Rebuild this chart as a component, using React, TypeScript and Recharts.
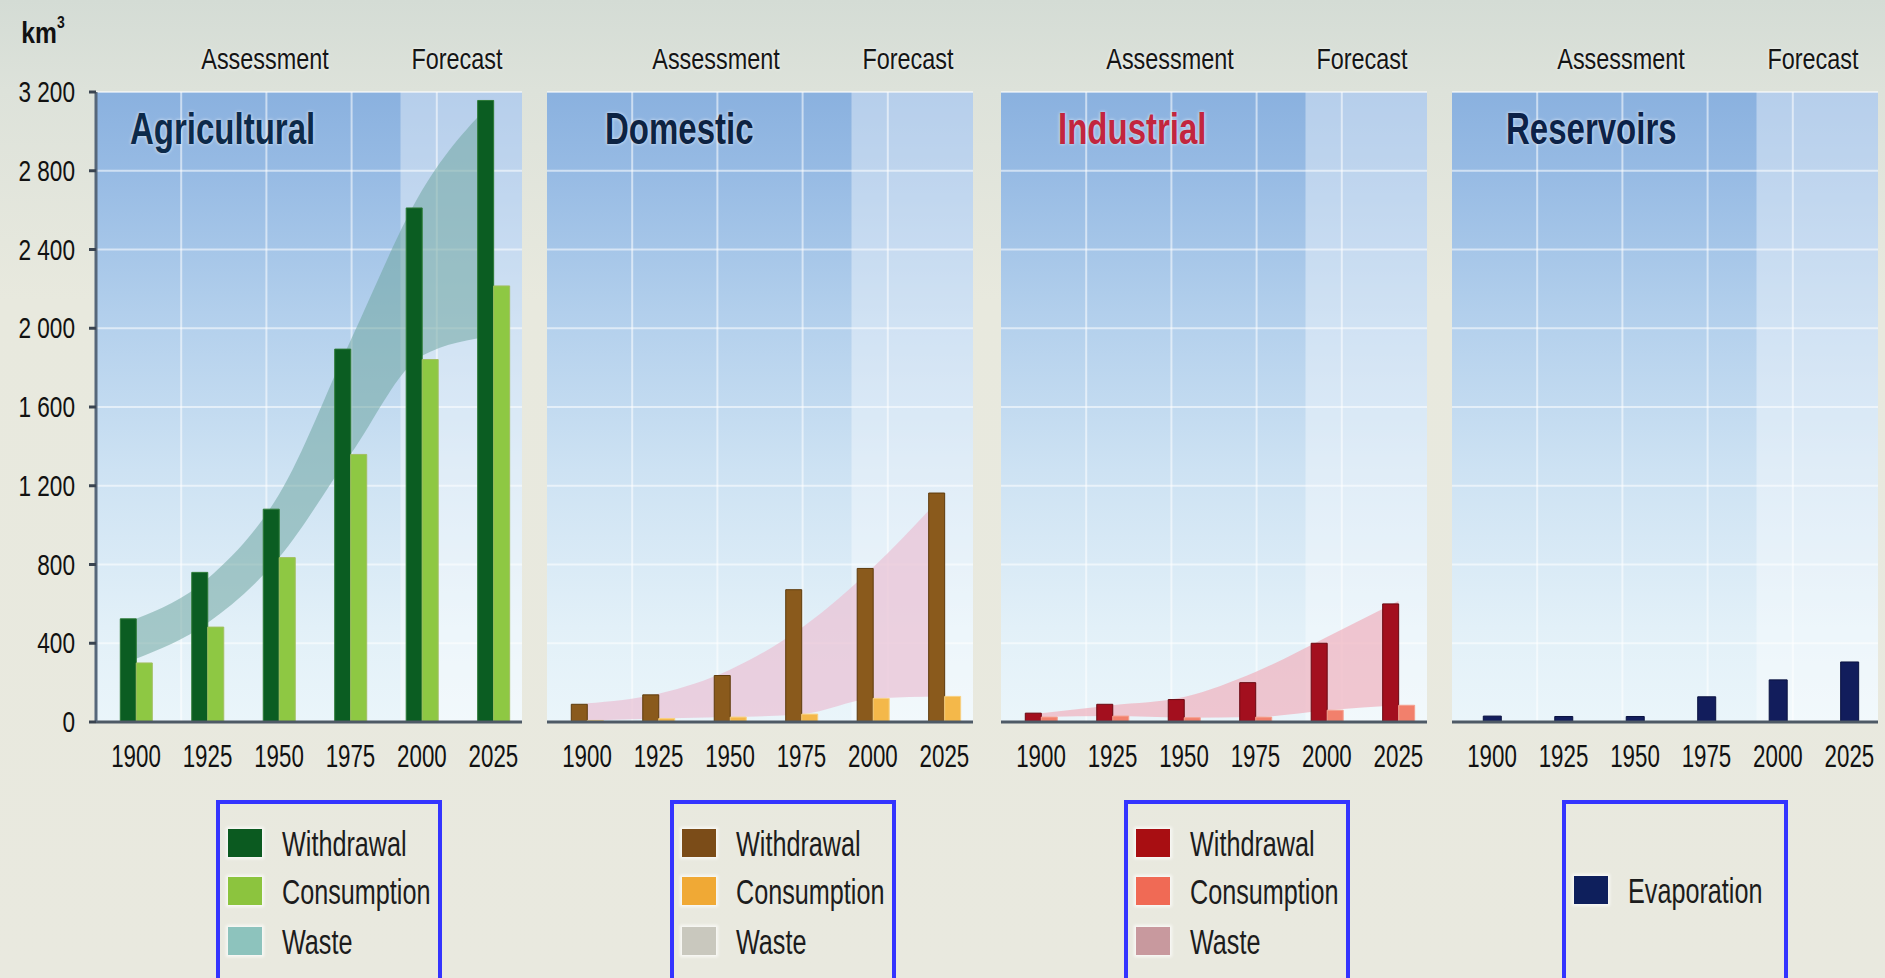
import React from 'react';
import { ComposedChart, Bar, Area, XAxis, YAxis, CartesianGrid, ReferenceArea } from 'recharts';

// ---------- data ----------
const years = [1900, 1925, 1950, 1975, 2000, 2025];
const yTicks = [0, 400, 800, 1200, 1600, 2000, 2400, 2800, 3200];

const agriWithdrawal = [524, 760, 1081, 1894, 2611, 3157];
const agriConsumption = [300, 482, 835, 1359, 1841, 2215];
const agriWasteLow = [321, 503, 835, 1359, 1860, 1960];
const agriWasteHigh = [524, 728, 1156, 1937, 2700, 3157];

const domWithdrawal = [90, 138, 236, 672, 780, 1163];
const domConsumption = [8, 18, 25, 40, 120, 130];
const domWasteHigh = [95, 144, 266, 478, 785, 1160];

const indWithdrawal = [45, 90, 114, 200, 400, 600];
const indConsumption = [25, 30, 22, 25, 60, 85];
const indWasteHigh = [45, 85, 127, 254, 432, 615];

const resEvaporation = [30, 28, 28, 128, 214, 305];

const panelTitles = ['Agricultural', 'Domestic', 'Industrial', 'Reservoirs'];
const headerLabels = ['Assessment', 'Forecast'];
const unitLabel = 'km';

// ---------- layout / style ----------
const X_MIN = 1886;
const X_MAX = 2035;
const FORECAST_FROM = 1992.5;
const Y_MAX = 3200;
const PANEL_LEFT = [96, 547, 1001, 1452];
const PLOT_W = 426;
const TITLE_OFFSET = [34, 58, 57, 54];
const LEGEND_LEFT = [216, 670, 1124, 1562];
const FONT = "'Liberation Sans', Arial, Helvetica, sans-serif";

type BarSeries = { label: string; values: number[]; fill: string; stroke: string; legend: string; size: number };
type Waste = { label: string; low: number[]; high: number[]; fill: string; opacity: number; legend: string };
type PanelDef = { title: string; titleColor: string; bars: BarSeries[]; waste?: Waste };

const panels: PanelDef[] = [
  {
    title: panelTitles[0],
    titleColor: '#0c2a4a',
    bars: [
      { label: 'Withdrawal', values: agriWithdrawal, fill: '#0b5d22', stroke: '#2c7a36', legend: '#0b5a20', size: 16 },
      { label: 'Consumption', values: agriConsumption, fill: '#8ec843', stroke: '#a3bf62', legend: '#8cc43e', size: 16 },
    ],
    waste: { label: 'Waste', low: agriWasteLow, high: agriWasteHigh, fill: '#6fa6a0', opacity: 0.55, legend: '#8dc3bd' },
  },
  {
    title: panelTitles[1],
    titleColor: '#0d2342',
    bars: [
      { label: 'Withdrawal', values: domWithdrawal, fill: '#8a5a1c', stroke: '#5e3b0c', legend: '#7b4c18', size: 16 },
      { label: 'Consumption', values: domConsumption, fill: '#f4b84a', stroke: '#f8d080', legend: '#f0a935', size: 16 },
    ],
    waste: { label: 'Waste', low: domConsumption, high: domWasteHigh, fill: '#e9c3d6', opacity: 0.75, legend: '#c9c8be' },
  },
  {
    title: panelTitles[2],
    titleColor: '#c2263e',
    bars: [
      { label: 'Withdrawal', values: indWithdrawal, fill: '#a30f1e', stroke: '#6a0a12', legend: '#a80e12', size: 16 },
      { label: 'Consumption', values: indConsumption, fill: '#f2806c', stroke: '#f5a090', legend: '#f06a55', size: 16 },
    ],
    waste: { label: 'Waste', low: indConsumption, high: indWasteHigh, fill: '#f0b0bd', opacity: 0.7, legend: '#c8999e' },
  },
  {
    title: panelTitles[3],
    titleColor: '#0c2248',
    bars: [
      { label: 'Evaporation', values: resEvaporation, fill: '#121d5c', stroke: '#0a1240', legend: '#0e1f5c', size: 18 },
    ],
  },
];

const fmt = (v: number) => (v >= 1000 ? `${Math.floor(v / 1000)} ${String(v % 1000).padStart(3, '0')}` : String(v));

const XTick = (props: any) => {
  const { x, y, payload } = props;
  return (
    <text
      x={0}
      y={0}
      transform={`translate(${x},${y + 35}) scale(0.72,1)`}
      textAnchor="middle"
      dominantBaseline="central"
      fontFamily={FONT}
      fontSize={31}
      fill="#111"
    >
      {payload.value}
    </text>
  );
};

const YTick = (props: any) => {
  const { x, y, payload } = props;
  return (
    <text
      x={0}
      y={0}
      transform={`translate(${x},${y}) scale(0.78,1)`}
      textAnchor="end"
      dominantBaseline="central"
      fontFamily={FONT}
      fontSize={29}
      fill="#111"
    >
      {fmt(payload.value)}
    </text>
  );
};

function Txt(props: { x: number; y: number; text: React.ReactNode; size: number; sx: number; color?: string; weight?: number; anchor?: 'left' | 'center'; glow?: boolean }) {
  const { x, y, text, size, sx, color = '#111', weight = 400, anchor = 'center', glow } = props;
  const style: React.CSSProperties = {
    position: 'absolute',
    left: x,
    top: y,
    fontFamily: FONT,
    fontSize: size,
    fontWeight: weight,
    color,
    whiteSpace: 'nowrap',
    lineHeight: 1,
    transformOrigin: anchor === 'left' ? 'left center' : 'center center',
    transform: anchor === 'left' ? `translate(0,-50%) scaleX(${sx})` : `translate(-50%,-50%) scaleX(${sx})`,
    textShadow: glow ? '0 0 4px rgba(255,255,255,0.85)' : undefined,
  };
  return <div style={style}>{text}</div>;
}

function Panel({ p, idx }: { p: PanelDef; idx: number }) {
  const showY = idx === 0;
  const left = PANEL_LEFT[idx];
  const chartLeft = showY ? 0 : left - 10;
  const width = showY ? 96 + PLOT_W + 8 : PLOT_W + 20;
  const rows = years.map((year, i) => {
    const r: any = { year };
    p.bars.forEach((b, j) => (r[`b${j}`] = b.values[i]));
    if (p.waste) r.waste = [p.waste.low[i], p.waste.high[i]];
    return r;
  });
  const gid = `bg${idx}`;
  return (
    <div style={{ position: 'absolute', left: chartLeft, top: 0 }}>
      <ComposedChart width={width} height={800} data={rows} margin={{ top: 92, right: showY ? 8 : 10, bottom: 28, left: 10 }} barGap={0}>
        <defs>
          <linearGradient id={gid} x1="0" y1="0" x2="0" y2="1">
            <stop offset="0" stopColor="#8ab1df" />
            <stop offset="0.13" stopColor="#97bbe4" />
            <stop offset="0.35" stopColor="#b2cfec" />
            <stop offset="0.6" stopColor="#cde2f3" />
            <stop offset="0.85" stopColor="#e2f0f8" />
            <stop offset="1" stopColor="#eaf5fa" />
          </linearGradient>
        </defs>
        <CartesianGrid
          fill={`url(#${gid})`}
          fillOpacity={1}
          stroke="#ffffff"
          strokeOpacity={0.55}
          strokeWidth={2}
          verticalCoordinatesGenerator={({ offset }: any) => [0.2, 0.4, 0.6, 0.8].map((f) => offset.left + offset.width * f)}
        />
        <ReferenceArea x1={FORECAST_FROM} x2={X_MAX} y1={0} y2={Y_MAX} fill="#ffffff" fillOpacity={0.38} stroke="none" ifOverflow="hidden" zIndex={-60} />
        <XAxis
          type="number"
          dataKey="year"
          domain={[X_MIN, X_MAX]}
          ticks={years}
          interval={0}
          allowDataOverflow
          tick={<XTick />}
          tickLine={false}
          tickSize={0}
          tickMargin={0}
          axisLine={{ stroke: '#4e5a66', strokeWidth: 3 }}
          height={50}
        />
        <YAxis
          hide={!showY}
          domain={[0, Y_MAX]}
          ticks={yTicks}
          interval={0}
          width={86}
          tick={<YTick />}
          tickSize={7}
          tickMargin={14}
          tickLine={{ stroke: '#3a4450', strokeWidth: 3 }}
          axisLine={{ stroke: '#56677a', strokeWidth: 3 }}
        />
        {p.waste && (
          <Area
            dataKey="waste"
            type="monotone"
            fill={p.waste.fill}
            fillOpacity={p.waste.opacity}
            stroke="none"
            dot={false}
            activeDot={false}
            isAnimationActive={false}
          />
        )}
        {p.bars.map((b, j) => (
          <Bar key={j} dataKey={`b${j}`} barSize={b.size} fill={b.fill} stroke={b.stroke} strokeWidth={1} isAnimationActive={false} />
        ))}
      </ComposedChart>
    </div>
  );
}

function Legend({ p, idx }: { p: PanelDef; idx: number }) {
  const items: { label: string; color: string }[] = p.bars.map((b) => ({ label: b.label, color: b.legend }));
  if (p.waste) items.push({ label: p.waste.label, color: p.waste.legend });
  const rowY = items.length === 1 ? [90] : [43, 91, 141];
  const boxLeft = LEGEND_LEFT[idx];
  return (
    <div
      style={{
        position: 'absolute',
        left: boxLeft,
        top: 800,
        width: 226,
        height: 220,
        border: '4px solid #3434ff',
        boxSizing: 'border-box',
      }}
    >
      {items.map((it, k) => (
        <React.Fragment key={k}>
          <div
            style={{
              position: 'absolute',
              left: 8,
              top: rowY[k] - 14 - 4,
              width: 34,
              height: 28,
              background: it.color,
              boxShadow: '0 0 3px 2px rgba(255,255,255,0.7)',
            }}
          />
          <Txt x={62} y={rowY[k] - 4} text={it.label} size={35} sx={0.72} anchor="left" color="#1c1c1c" />
        </React.Fragment>
      ))}
    </div>
  );
}

export default function App() {
  return (
    <div
      style={{
        position: 'absolute',
        left: 0,
        top: 0,
        width: 1885,
        height: 978,
        overflow: 'hidden',
        background: 'linear-gradient(#d4dcd5 0px, #dde2da 90px, #e8e9de 300px, #e9e9df 978px)',
      }}
    >
      {panels.map((p, i) => (
        <Panel key={i} p={p} idx={i} />
      ))}
      {panels.map((p, i) => (
        <Txt
          key={`t${i}`}
          x={PANEL_LEFT[i] + TITLE_OFFSET[i]}
          y={129}
          text={p.title}
          size={44}
          sx={0.75}
          weight={700}
          color={p.titleColor}
          anchor="left"
          glow
        />
      ))}
      {PANEL_LEFT.map((l, i) => (
        <React.Fragment key={`h${i}`}>
          <Txt x={l + 169} y={59} text={headerLabels[0]} size={30} sx={0.78} color="#151515" glow />
          <Txt x={l + 361} y={59} text={headerLabels[1]} size={30} sx={0.78} color="#151515" glow />
        </React.Fragment>
      ))}
      <Txt
        x={43}
        y={33}
        text={
          <span>
            {unitLabel}
            <sup style={{ fontSize: 17, verticalAlign: 'top', position: 'relative', top: -4 }}>3</sup>
          </span>
        }
        size={30}
        sx={0.82}
        color="#111"
        weight={700}
      />
      {panels.map((p, i) => (
        <Legend key={`l${i}`} p={p} idx={i} />
      ))}
    </div>
  );
}
